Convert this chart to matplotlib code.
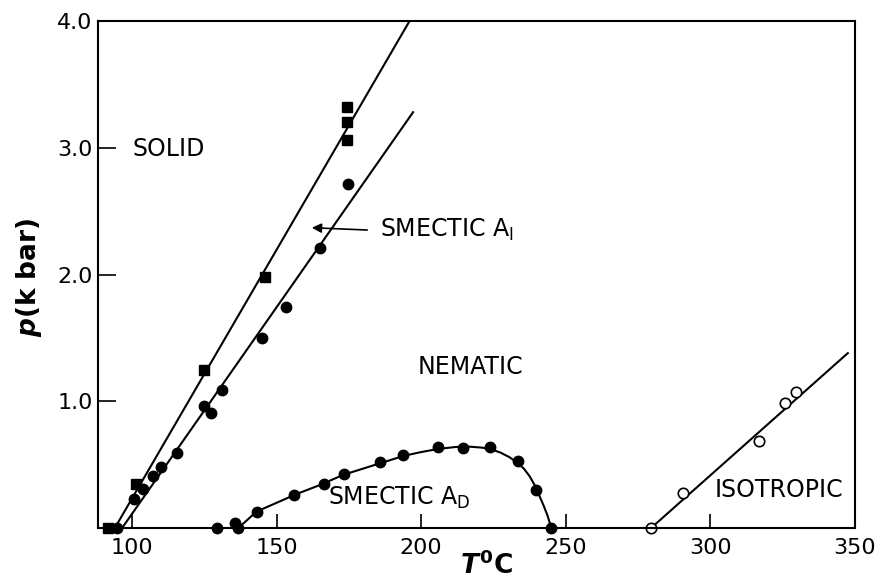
import matplotlib
matplotlib.use("Agg")
import matplotlib.pyplot as plt

plt.rcParams["font.family"] = "DejaVu Sans"
plt.rcParams["mathtext.fontset"] = "custom"
plt.rcParams["mathtext.rm"] = "DejaVu Sans"
plt.rcParams["mathtext.it"] = "DejaVu Sans:italic:bold"
plt.rcParams["mathtext.bf"] = "DejaVu Sans:bold"

# solid / smectic A1 boundary (squares)
sq_T = [91.7, 101.4, 124.9, 146.0, 174.3, 174.3, 174.5]
sq_p = [0.0, 0.35, 1.25, 1.98, 3.32, 3.20, 3.06]
line1_T = [94.0, 196.0]
line1_p = [0.0, 4.0]

# smectic A1 / nematic boundary (filled circles)
ci_T = [94.8, 100.7, 103.8, 107.3, 110.0, 115.6, 124.9, 127.3, 131.1, 145.0, 153.3, 165.0, 174.7]
ci_p = [0.0, 0.23, 0.31, 0.41, 0.48, 0.59, 0.96, 0.91, 1.09, 1.50, 1.74, 2.21, 2.71]
line2_T = [96.5, 197.2]
line2_p = [0.0, 3.28]

# smectic Ad dome
ad_T = [129.5, 135.6, 136.7, 143.2, 156.0, 166.4, 173.3, 185.8, 193.6, 205.8, 214.5, 223.8, 233.5, 239.7, 244.9]
ad_p = [0.0, 0.04, 0.0, 0.13, 0.26, 0.35, 0.43, 0.52, 0.58, 0.64, 0.63, 0.64, 0.53, 0.30, 0.0]
dome_T = [136.7, 143, 150, 157, 165, 173, 180, 187, 194, 200, 206, 212, 217, 221, 224.5,
          227.5, 230.5, 233, 235.5, 237.5, 239.5, 241, 242.5, 243.7, 244.5, 245]
dome_p = [0.0, 0.13, 0.20, 0.27, 0.34, 0.42, 0.47, 0.52, 0.57, 0.60, 0.625, 0.64, 0.642, 0.635,
          0.62, 0.595, 0.56, 0.52, 0.47, 0.41, 0.33, 0.25, 0.17, 0.10, 0.04, 0.0]

# nematic / isotropic (open circles)
iso_T = [279.5, 290.5, 317.0, 326.0, 329.6]
iso_p = [0.0, 0.28, 0.69, 0.99, 1.07]
line3_T = [279.5, 347.6]
line3_p = [0.0, 1.38]

xticks = [100, 150, 200, 250, 300, 350]
yticks = [1.0, 2.0, 3.0, 4.0]
ytick_labels = ["1.0", "2.0", "3.0", "4.0"]

fig = plt.figure(figsize=(8.83, 5.81), dpi=100)
ax = fig.add_axes([0.111, 0.091, 0.857, 0.873])

lw = 1.5
ax.plot(line1_T, line1_p, color="black", lw=lw)
ax.plot(line2_T, line2_p, color="black", lw=lw)
ax.plot(dome_T, dome_p, color="black", lw=lw)
ax.plot(line3_T, line3_p, color="black", lw=lw)

ax.plot(sq_T, sq_p, "s", color="black", ms=7, ls="none", clip_on=False)
ax.plot(ci_T, ci_p, "o", color="black", ms=7.5, ls="none", clip_on=False)
ax.plot(ad_T, ad_p, "o", color="black", ms=7.5, ls="none", clip_on=False)
ax.plot(iso_T, iso_p, "o", mfc="white", mec="black", mew=1.2, ms=7.5, ls="none", clip_on=False)

ax.set_xlim(88.2, 350)
ax.set_ylim(0, 4.0)
ax.set_xticks(xticks)
ax.set_yticks(yticks)
ax.set_yticklabels(ytick_labels)
ax.tick_params(axis="both", direction="in", labelsize=16, width=1.2)
ax.tick_params(axis="y", length=13, pad=4)
ax.tick_params(axis="x", length=10, pad=7)
for s in ax.spines.values():
    s.set_linewidth(1.5)

fs = 17
ax.text(100.3, 2.99, "SOLID", fontsize=fs, va="center", ha="left")
ax.text(198.9, 1.27, "NEMATIC", fontsize=fs, va="center", ha="left")
ax.text(167.8, 0.24, r"SMECTIC A$_{\mathregular{D}}$", fontsize=fs, va="center", ha="left")
ax.text(301.6, 0.30, "ISOTROPIC", fontsize=fs, va="center", ha="left")
ax.text(185.8, 2.35, r"SMECTIC A$_{\mathregular{I}}$", fontsize=fs, va="center", ha="left")
ax.annotate("", xy=(161.2, 2.37), xytext=(182.3, 2.35),
            arrowprops=dict(arrowstyle="-|>", color="black", lw=1.2, mutation_scale=14))

ax.set_ylabel(r"$p$(k bar)", fontsize=19, fontweight="bold")
ax.set_xlabel(r"$T^{\mathbf{0}}$C", fontsize=19, fontweight="bold")
ax.yaxis.set_label_coords(-0.072, 0.495)
ax.xaxis.set_label_coords(0.514, -0.047)

fig.savefig("out.png", dpi=100)
